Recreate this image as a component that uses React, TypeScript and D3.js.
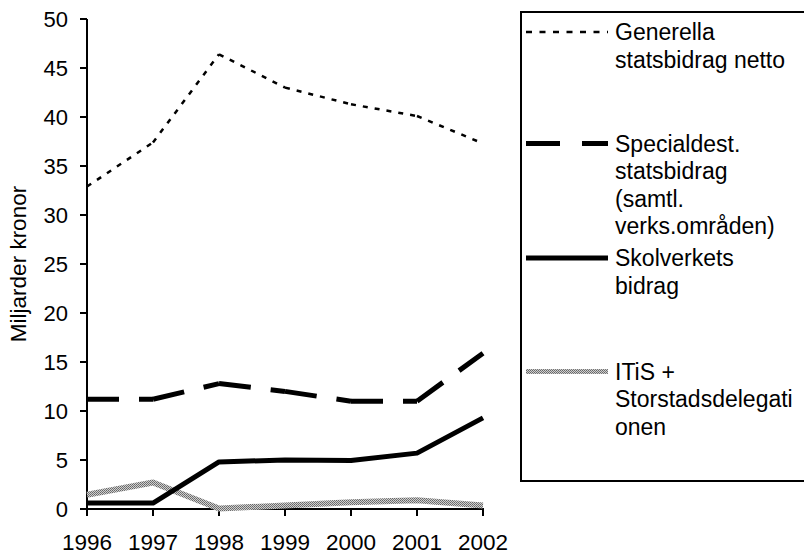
import React from "react";
import * as d3 from "d3";

const years = ["1996", "1997", "1998", "1999", "2000", "2001", "2002"];
const generella = [32.9, 37.4, 46.4, 43.0, 41.3, 40.1, 37.3];
const specialdest = [11.2, 11.2, 12.8, 12.0, 11.0, 11.0, 15.9];
const skolverket = [0.6, 0.6, 4.8, 5.0, 4.95, 5.7, 9.3];
const itis = [1.45, 2.7, 0.05, 0.35, 0.7, 0.9, 0.35];
const yTicks = [0, 5, 10, 15, 20, 25, 30, 35, 40, 45, 50];
const yTitle = "Miljarder kronor";
const legendGenerella = ["Generella", "statsbidrag netto"];
const legendSpecial = ["Specialdest.", "statsbidrag", "(samtl.", "verks.områden)"];
const legendSkol = ["Skolverkets", "bidrag"];
const legendItis = ["ITiS +", "Storstadsdelegati", "onen"];

const W = 804;
const H = 556;
const FONT = "'Liberation Sans', Arial, sans-serif";

export default function App() {
  const x = d3.scalePoint<string>().domain(years).range([87, 483]);
  const y = d3.scaleLinear().domain([0, 50]).range([509, 19]);
  const line = d3
    .line<[number, number]>()
    .x((d) => d[0])
    .y((d) => d[1]);

  const pts = (vals: number[]): [number, number][] =>
    vals.map((v, i) => [x(years[i]) as number, y(v)]);

  const segments = (vals: number[]) => {
    const p = pts(vals);
    const out: [number, number][][] = [];
    for (let i = 0; i < p.length - 1; i++) out.push([p[i], p[i + 1]]);
    return out;
  };

  const legendStyles = [
    { lines: legendGenerella, y: 32, stroke: "#000", width: 2.5, dash: "6,7.5" },
    { lines: legendSpecial, y: 143.5, stroke: "#000", width: 5, dash: "34,22" },
    { lines: legendSkol, y: 258, stroke: "#000", width: 5, dash: undefined },
    { lines: legendItis, y: 371.5, stroke: "url(#itisPat)", width: 5, dash: undefined },
  ];

  return (
    <svg
      width={W}
      height={H}
      style={{ position: "absolute", left: 0, top: 0, background: "#fff", overflow: "hidden" }}
      fontFamily={FONT}
    >
      <defs>
        <pattern id="itisPat" width={2} height={2} patternUnits="userSpaceOnUse">
          <rect width={2} height={2} fill="#cfcfcf" />
          <rect width={1} height={1} fill="#666" />
          <rect x={1} y={1} width={1} height={1} fill="#777" />
        </pattern>
      </defs>
      <rect x={0} y={0} width={W} height={H} fill="#fff" />

      {/* Y axis */}
      <line x1={87} x2={87} y1={y(50)} y2={y(0)} stroke="#000" strokeWidth={2} />
      {yTicks.map((t) => (
        <g key={t}>
          <line x1={80} x2={87} y1={y(t)} y2={y(t)} stroke="#000" strokeWidth={2} />
          <text x={68} y={y(t) + 7.5} textAnchor="end" fontSize={22} fill="#000">
            {t}
          </text>
        </g>
      ))}
      <text
        transform={`translate(26, ${(y(0) + y(50)) / 2}) rotate(-90)`}
        textAnchor="middle"
        fontSize={22.5}
        fill="#000"
      >
        {yTitle}
      </text>

      {/* X axis */}
      <line x1={86} x2={484} y1={y(0)} y2={y(0)} stroke="#000" strokeWidth={2} />
      {years.map((yr) => (
        <g key={yr}>
          <line x1={x(yr)} x2={x(yr)} y1={y(0)} y2={y(0) + 7} stroke="#000" strokeWidth={2} />
          <text x={x(yr)} y={550} textAnchor="middle" fontSize={22.5} fill="#000">
            {yr}
          </text>
        </g>
      ))}

      {/* Series */}
      <path d={line(pts(itis)) || ""} fill="none" stroke="url(#itisPat)" strokeWidth={6} strokeLinejoin="round" />
      <path d={line(pts(skolverket)) || ""} fill="none" stroke="#000" strokeWidth={5} strokeLinejoin="round" />
      {segments(specialdest).map((s, i) => (
        <path key={"sp" + i} d={line(s) || ""} fill="none" stroke="#000" strokeWidth={5} strokeDasharray="32,20" />
      ))}
      {segments(generella).map((s, i) => (
        <path key={"ge" + i} d={line(s) || ""} fill="none" stroke="#000" strokeWidth={2.5} strokeDasharray="5,7" />
      ))}

      {/* Legend */}
      <rect x={521} y={12} width={400} height={469} fill="#fff" stroke="#000" strokeWidth={2} />
      {legendStyles.map((l, i) => (
        <g key={"lg" + i}>
          <line
            x1={526}
            x2={608}
            y1={l.y}
            y2={l.y}
            stroke={l.stroke}
            strokeWidth={l.width}
            strokeDasharray={l.dash}
          />
          <text x={615} y={l.y + 8} fontSize={23} fill="#000">
            {l.lines.map((t, j) => (
              <tspan key={j} x={615} dy={j === 0 ? 0 : 27.6}>
                {t}
              </tspan>
            ))}
          </text>
        </g>
      ))}
    </svg>
  );
}
